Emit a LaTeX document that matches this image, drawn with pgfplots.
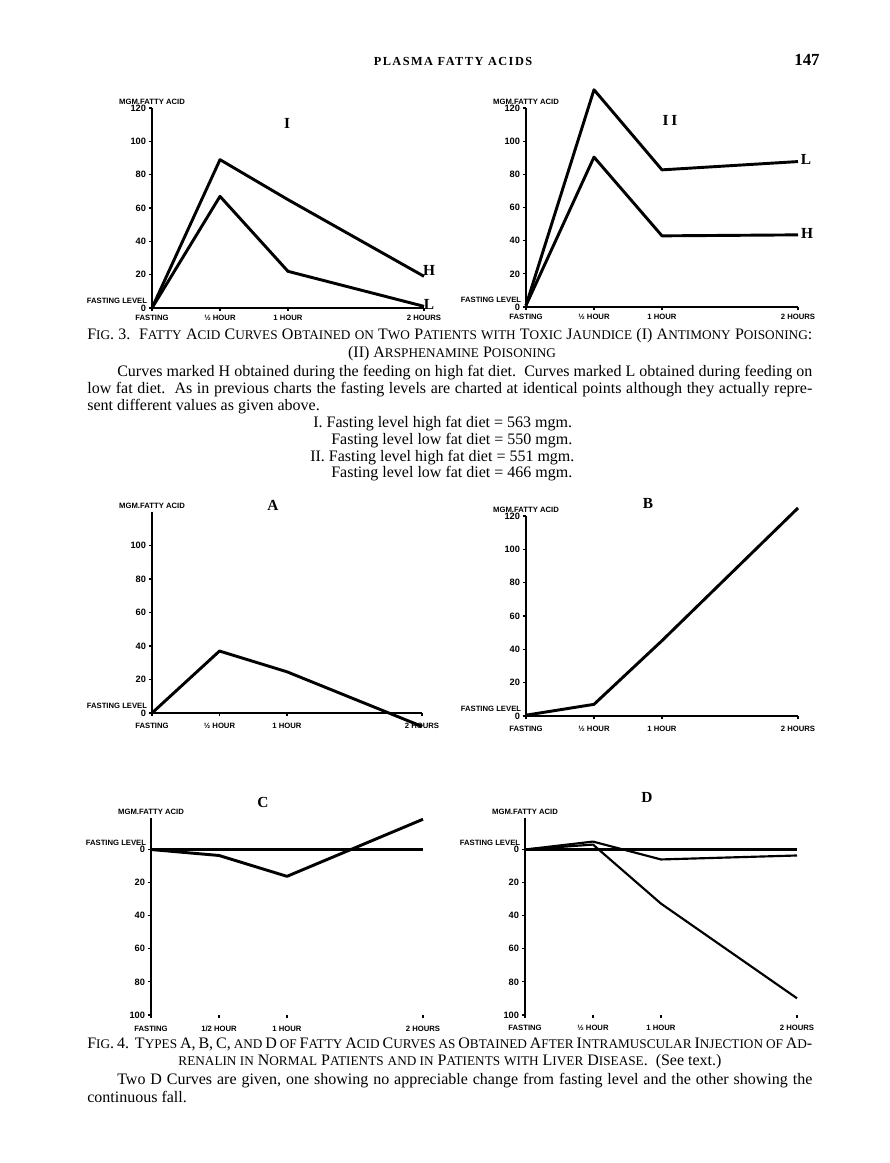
\documentclass[border=0pt]{standalone}
\usepackage{fontspec}
\setmainfont{Liberation Serif}
\setsansfont{Liberation Sans}
\usepackage{pgfplots}
\pgfplotsset{compat=1.18}

% fake small caps for the captions
\newcommand{\C}[1]{{\fontsize{8.6}{9}\selectfont\MakeUppercase{#1}}}
\newcommand{\tl}{\sffamily\bfseries\fontsize{5}{6}\selectfont}
\newcommand{\tn}{\sffamily\bfseries\fontsize{6}{7}\selectfont}
\newcommand{\body}{\fontsize{10.4}{12}\selectfont}

\tikzset{
  mgm/.style={anchor=base, yshift=2.3pt, font=\tl, inner sep=0pt},
  fl/.style={anchor=base east, xshift=-3pt, yshift=2.8pt, font=\tl, inner sep=0pt},
  ttl/.style={font=\bfseries\fontsize{10}{12}\selectfont, inner sep=0pt},
  txt/.style={anchor=base west, font=\body, inner sep=0pt},
}

\pgfplotsset{
  chart/.style={
    scale only axis, clip=false, width=176.8pt,
    xmin=0, xmax=4, xtick={0,1,2,4},
    axis lines=left,
    axis line style={-, line width=1.3pt},
    x axis line style={-}, y axis line style={-},
    tick style={black, line width=0.7pt},
    major tick length=2.2pt, tick align=outside,
    xticklabel style={font=\tl, inner sep=1pt},
    yticklabel style={font=\tn, inner sep=1.5pt},
    xticklabels={FASTING, ½ HOUR, 1 HOUR, 2 HOURS},
    cycle list={{black, solid, no markers}},
    every axis plot/.append style={line width=1.9pt, line join=round},
    /pgf/number format/assume math mode=true,
  },
  up/.style={ymin=0, ymax=120, ytick={0,20,...,120}, yticklabels={0,20,40,60,80,100,120}},
  down/.style={ymin=-100, ymax=19, height=128pt,
    ytick={-100,-80,...,0}, yticklabels={100,80,60,40,20,0},
    x axis line style={draw=none}, xticklabel shift=3.5pt},
}

\begin{document}
\begin{tikzpicture}
\begin{scope}[x=0.65pt,y=-0.65pt]
\fill[white] (0,0) rectangle (890,1163);
\useasboundingbox (0,0) rectangle (890,1163);

\coordinate (oI) at (152,308);
\coordinate (oII) at (526,307);
\coordinate (oA) at (152,713);
\coordinate (oB) at (526,716);
\coordinate (oC) at (151,1015);
\coordinate (oD) at (525,1015);

% running head
\node[anchor=base, font=\bfseries\fontsize{8}{9}\selectfont\addfontfeatures{LetterSpace=12}] at (453,65) {PLASMA FATTY ACIDS};
\node[anchor=base, font=\bfseries\fontsize{11}{12}\selectfont] at (807,65) {147};

% chart titles and curve marks
\node[ttl] at (287,123) {I};
\node[ttl] at (670,120) {I\,I};
\node[ttl] at (273,505) {A};
\node[ttl] at (648,503) {B};
\node[ttl] at (263,802) {C};
\node[ttl] at (647,797) {D};
\node[ttl] at (429,270) {H};
\node[ttl] at (429,304) {L};
\node[ttl] at (806,159) {L};
\node[ttl] at (807,233) {H};

% Fig. 3 caption and text
\node[txt] at (87,339) {\makebox[471.25pt][s]{F\C{ig}. 3.\ \ F\C{atty} A\C{cid} C\C{urves} O\C{btained} \C{on} T\C{wo} P\C{atients} \C{with} T\C{oxic} J\C{aundice} (I) A\C{ntimony} P\C{oisoning}:}};
\node[txt, anchor=base] at (452,357) {(II) A\C{rsphenamine} P\C{oisoning}};
\node[txt] at (117,376) {\makebox[451.75pt][s]{Curves marked H obtained during the feeding on high fat diet.\ \ Curves marked L obtained during feeding on}};
\node[txt] at (87,393) {\makebox[471.25pt][s]{low fat diet.\ \ As in previous charts the fasting levels are charted at identical points although they actually repre-}};
\node[txt] at (87,410) {sent different values as given above.};
\node[txt] at (313,427) {I. Fasting level high fat diet = 563 mgm.};
\node[txt] at (331,444) {Fasting level low fat diet = 550 mgm.};
\node[txt] at (310,461) {II. Fasting level high fat diet = 551 mgm.};
\node[txt] at (331,477) {Fasting level low fat diet = 466 mgm.};

% Fig. 4 caption and text
\node[txt] at (87,1048) {\makebox[471.25pt][s]{F\C{ig}. 4.\ \ T\C{ypes} A, B, C, \C{and} D \C{of} F\C{atty} A\C{cid} C\C{urves} \C{as} O\C{btained} A\C{fter} I\C{ntramuscular} I\C{njection} \C{of} A\C{d}-}};
\node[txt, anchor=base] at (450,1065) {\C{renalin in} N\C{ormal} P\C{atients} \C{and in} P\C{atients} \C{with} L\C{iver} D\C{isease}.\ \ (See text.)};
\node[txt] at (117,1084) {\makebox[451.75pt][s]{Two D Curves are given, one showing no appreciable change from fasting level and the other showing the}};
\node[txt] at (87,1102) {continuous fall.};
\end{scope}

% ---- Fig. 3, I
\begin{axis}[chart, up, at={(oI)}, anchor=south west, height=130pt, xticklabel shift=1.5pt]
\addplot coordinates {(0,0) (1,89) (2,65) (4,19)};
\addplot coordinates {(0,0) (1,67) (2,22) (4,1)};
\node[mgm] at (axis cs:0,120) {MGM.FATTY ACID};
\node[fl] at (axis cs:0,0) {FASTING LEVEL};
\end{axis}

% ---- Fig. 3, II
\begin{axis}[chart, up, at={(oII)}, anchor=south west, height=129.35pt, xticklabel shift=1.5pt]
\addplot coordinates {(0,1) (1,131) (2,82.7) (4,87.7)};
\addplot coordinates {(0,1) (1,90.4) (2,42.9) (4,43.5)};
\node[mgm] at (axis cs:0,120) {MGM.FATTY ACID};
\node[fl] at (axis cs:0,0) {FASTING LEVEL};
\end{axis}

% ---- Fig. 4, A
\begin{axis}[chart, up, at={(oA)}, anchor=south west, width=175.5pt, height=130.65pt,
  ytick={0,20,...,100}, yticklabels={0,20,40,60,80,100}, xticklabel shift=3pt]
\addplot coordinates {(0,0) (1,37) (2,24.6) (4,-8)};
\node[mgm] at (axis cs:0,120) {MGM.FATTY ACID};
\node[fl] at (axis cs:0,0) {FASTING LEVEL};
\end{axis}

% ---- Fig. 4, B
\begin{axis}[chart, up, at={(oB)}, anchor=south west, height=130pt, xticklabel shift=3pt]
\addplot coordinates {(0,0.5) (1,7) (2,45.2) (4,124.8)};
\node[mgm] at (axis cs:0,120) {MGM.FATTY ACID};
\node[fl] at (axis cs:0,0) {FASTING LEVEL};
\end{axis}

% ---- Fig. 4, C (fall plotted downward)
\begin{axis}[chart, down, at={(oC)}, anchor=south west,
  xticklabels={FASTING, 1/2 HOUR, 1 HOUR, 2 HOURS}]
\addplot coordinates {(0,0) (4,0)};
\addplot coordinates {(0,0) (1,-3.6) (2,-16.2) (4,18.3)};
\node[mgm] at (axis cs:0,19) {MGM.FATTY ACID};
\node[fl] at (axis cs:0,0) {FASTING LEVEL};
\end{axis}

% ---- Fig. 4, D
\begin{axis}[chart, down, at={(oD)}, anchor=south west,
  every axis plot/.append style={line width=1.4pt}]
\addplot coordinates {(0,0) (4,0)};
\addplot coordinates {(0,0) (1,4.8) (2,-6) (4,-3.6)};
\addplot coordinates {(0,0) (1,3) (2,-32.7) (4,-89.9)};
\node[mgm] at (axis cs:0,19) {MGM.FATTY ACID};
\node[fl] at (axis cs:0,0) {FASTING LEVEL};
\end{axis}
\end{tikzpicture}
\end{document}
